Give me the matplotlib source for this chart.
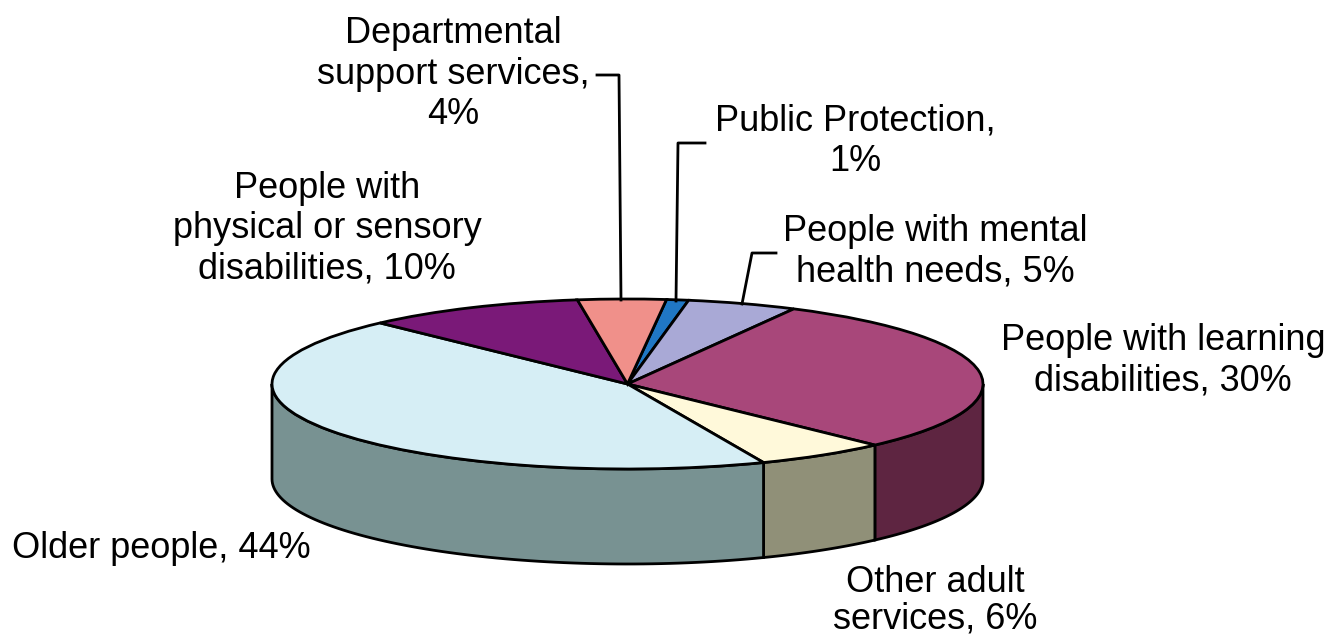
import numpy as np
import matplotlib
matplotlib.use("Agg")
import matplotlib.pyplot as plt
from matplotlib.patches import Polygon

# ---- data (clockwise from the top of the pie) ----
labels = [
    "Public Protection,\n1%",
    "People with mental\nhealth needs, 5%",
    "People with learning\ndisabilities, 30%",
    "Other adult\nservices, 6%",
    "Older people, 44%",
    "People with\nphysical or sensory\ndisabilities, 10%",
    "Departmental\nsupport services,\n4%",
]
shares = [1, 5, 30, 6, 44, 10, 4]
top_colors = ["#2077C4", "#A9A9D6", "#A8477A", "#FFF9DA", "#D6EEF5", "#7A1978", "#F0908A"]
side_colors = ["#144E82", "#6F6F90", "#5E2541", "#909078", "#789292", "#4C0F4B", "#A0605C"]

# ---- layout (pixels of the 1331x639 picture) ----
W, H = 1331, 639
CX, CY, RX, RY = 627.5, 384.0, 355.5, 85.0
DEPTH = 95.0 / RY
START = 6.3  # degrees clockwise from 12 o'clock


def px(x, y):
    """pixel position -> data coords (unit circle squashed into the ellipse)"""
    return (x - CX) / RX, (CY - y) / RY


fig = plt.figure(figsize=(W / 100, H / 100), dpi=100)
ax = fig.add_axes([0, 0, 1, 1])

# front side of the cylinder
vals = np.array(shares, dtype=float)
edges = START + np.concatenate([[0], np.cumsum(vals)]) / vals.sum() * 360
for i in range(len(vals)):
    a, b = max(edges[i], 90), min(edges[i + 1], 270)
    if a >= b:
        continue
    t = np.radians(np.linspace(a, b, 80))
    xs, ys = np.sin(t), np.cos(t)
    pts = np.vstack([np.column_stack([xs, ys]),
                     np.column_stack([xs[::-1], ys[::-1] - DEPTH])])
    ax.add_patch(Polygon(pts, closed=True, facecolor=side_colors[i],
                         edgecolor="black", linewidth=2, zorder=1))

# top face
ax.pie(vals, colors=top_colors, startangle=90 - START, counterclock=False,
       center=(0, 0), radius=1, frame=False,
       wedgeprops=dict(edgecolor="black", linewidth=2, zorder=2))
ax.set_aspect("auto")
ax.set_xlim(px(0, 0)[0], px(W, 0)[0])
ax.set_ylim(px(0, H)[1], px(0, 0)[1])
ax.axis("off")

# labels
font = dict(fontsize=26, family=["Liberation Sans", "DejaVu Sans"],
            ha="center", va="center")
label_pos = [(855, 141), (935, 252), (1163, 361), (935, 601),
             (161, 548), (327, 229), (453, 74)]
spacing = [1.2, 1.2, 1.2, 1.05, 1.2, 1.2, 1.2]
for text, (x, y), ls in zip(labels, label_pos, spacing):
    ax.text(*px(x, y), text, linespacing=ls, **font)

# leader lines
leaders = [
    [(705, 143), (678, 143), (676, 301)],
    [(776, 253), (752, 253), (742, 304)],
    [(597, 75), (619, 75), (621, 300)],
]
for pts in leaders:
    xy = np.array([px(x, y) for x, y in pts])
    ax.plot(xy[:, 0], xy[:, 1], color="black", linewidth=2, zorder=3)

fig.savefig("out.png", dpi=100)
